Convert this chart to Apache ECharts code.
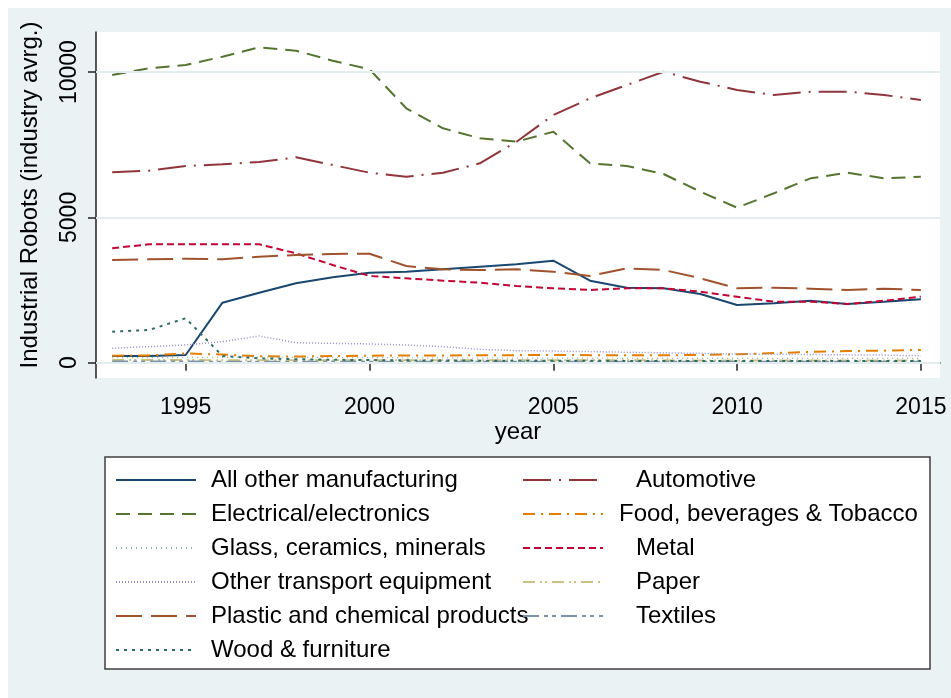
<!DOCTYPE html>
<html>
<head>
<meta charset="utf-8">
<script src="https://cdn.jsdelivr.net/npm/echarts@6/dist/echarts.min.js"></script>
<style>
  html, body { margin: 0; padding: 0; background: #fff; }
  #chart { width: 951px; height: 698px; }
</style>
</head>
<body>
<div id="chart"></div>
<script>
  // values (industry average of robots)
  var years = [1993, 1994, 1995, 1996, 1997, 1998, 1999, 2000, 2001, 2002, 2003, 2004,
               2005, 2006, 2007, 2008, 2009, 2010, 2011, 2012, 2013, 2014, 2015];
  var allOther = [230, 230, 265, 2065, 2409, 2732, 2938, 3097, 3131, 3213, 3303, 3386,
                  3510, 2822, 2581, 2560, 2364, 1986, 2044, 2133, 2020, 2099, 2181];
  var automotive = [6551, 6607, 6768, 6826, 6906, 7068, 6803, 6538, 6400, 6538, 6861, 7605,
                    8523, 9097, 9556, 10013, 9670, 9384, 9212, 9325, 9325, 9212, 9040];
  var electrical = [9900, 10130, 10244, 10530, 10853, 10736, 10392, 10096, 8754, 8066, 7722, 7605,
                    7950, 6860, 6768, 6493, 5885, 5334, 5829, 6345, 6538, 6345, 6400];
  var food = [240, 250, 320, 280, 220, 210, 230, 240, 250, 250, 255, 260,
              265, 260, 255, 255, 265, 290, 330, 370, 400, 415, 440];
  var glass = [170, 175, 180, 185, 190, 185, 180, 175, 170, 165, 160, 160,
               160, 155, 150, 150, 150, 145, 150, 150, 150, 150, 150];
  var metal = [3936, 4074, 4074, 4074, 4074, 3764, 3362, 2983, 2904, 2822, 2753, 2639,
               2560, 2502, 2560, 2560, 2443, 2271, 2099, 2099, 2020, 2133, 2271];
  var otherTransport = [495, 551, 609, 723, 919, 688, 666, 643, 609, 551, 460, 413,
                        400, 380, 360, 340, 320, 300, 290, 280, 270, 260, 240];
  var paper = [90, 90, 90, 85, 85, 80, 80, 80, 80, 80, 80, 80,
               80, 80, 80, 80, 75, 75, 75, 75, 75, 75, 75];
  var plastic = [3534, 3557, 3580, 3557, 3648, 3706, 3740, 3751, 3327, 3213, 3190, 3213,
                 3131, 2983, 3247, 3190, 2904, 2560, 2583, 2548, 2502, 2548, 2502];
  var textiles = [40, 40, 40, 35, 35, 35, 30, 30, 30, 30, 30, 30,
                  30, 30, 30, 30, 30, 30, 30, 30, 30, 30, 30];
  var wood = [1067, 1125, 1528, 230, 151, 120, 100, 90, 80, 75, 70, 70,
              65, 65, 60, 60, 60, 60, 55, 55, 55, 55, 55];

  var xTicks = [1995, 2000, 2005, 2010, 2015];
  var yTicks = [0, 5000, 10000];

  var font = 'Arial, "Liberation Sans", sans-serif';

  function pairs(vals) {
    return vals.map(function (v, i) { return [years[i], v]; });
  }

  function line(name, vals, color, dash, width) {
    return {
      name: name,
      type: 'line',
      data: pairs(vals),
      symbol: 'none',
      z: 3,
      lineStyle: { color: color, width: width || 2, type: dash, cap: 'butt' },
      itemStyle: { color: color },
      emphasis: { disabled: true },
      animation: false
    };
  }

  var leftNames = ['All other manufacturing', 'Electrical/electronics', 'Glass, ceramics, minerals',
                   'Other transport equipment', 'Plastic and chemical products', 'Wood & furniture'];
  var rightNames = ['Automotive', 'Food, beverages & Tobacco', 'Metal', 'Paper', 'Textiles'];

  var series = [
    // light gridlines at the y ticks
    {
      name: 'grid', type: 'line', data: [], z: 1, silent: true,
      markLine: {
        silent: true, symbol: 'none', label: { show: false },
        lineStyle: { color: '#e3edef', width: 2, type: 'solid' },
        data: yTicks.map(function (v) { return { yAxis: v }; }),
        animation: false
      }
    },
    line('All other manufacturing', allOther, '#1a476f', 'solid', 2),
    line('Automotive', automotive, '#90353b', [28, 8, 2, 8], 2),
    line('Electrical/electronics', electrical, '#55752f', [14, 8], 2),
    line('Food, beverages & Tobacco', food, '#e37e00', [12, 6, 2, 6], 2),
    line('Glass, ceramics, minerals', glass, '#8fa8a0', [1, 4], 1.2),
    line('Metal', metal, '#c10534', [7, 4], 2),
    line('Other transport equipment', otherTransport, '#938dd2', [1, 2], 1.5),
    line('Paper', paper, '#cac27e', [12, 5, 2, 3, 2, 5], 2),
    line('Plastic and chemical products', plastic, '#a0522d', [26, 9], 2),
    line('Textiles', textiles, '#7b92a8', [16, 5, 4, 4, 4, 5], 2),
    line('Wood & furniture', wood, '#2d6d66', [3, 5], 2)
  ];

  var legendText = { fontFamily: font, fontSize: 24, color: '#000', lineHeight: 24 };
  var plain = function (v) { return String(v); };

  var option = {
    backgroundColor: '#fff',
    animation: false,
    textStyle: { fontFamily: font },
    graphic: [
      { type: 'rect', z: -10, shape: { x: 8, y: 8, width: 943, height: 690 },
        style: { fill: '#eaf2f3' } },
      { type: 'rect', z: 1, shape: { x: 105, y: 457, width: 825, height: 212 },
        style: { fill: '#fff', stroke: '#404040', lineWidth: 1.5 } }
    ],
    grid: {
      left: 96, right: 11, top: 32, bottom: 320,
      show: true, backgroundColor: '#fff', borderWidth: 0
    },
    xAxis: {
      type: 'value', min: 1992.56, max: 2015.52,
      name: 'year', nameLocation: 'middle', nameGap: 41,
      nameTextStyle: { fontSize: 24, color: '#000', fontFamily: font },
      axisLine: { show: true, lineStyle: { color: '#222', width: 1.5 } },
      axisTick: { show: true, customValues: xTicks, length: 8, lineStyle: { color: '#222', width: 1.5 } },
      axisLabel: { customValues: xTicks, formatter: plain, margin: 18, fontSize: 23, color: '#000', fontFamily: font },
      splitLine: { show: false }
    },
    yAxis: {
      type: 'value', min: -527, max: 11380,
      name: 'Industrial Robots (industry avrg.)', nameLocation: 'middle', nameGap: 54,
      nameTextStyle: { fontSize: 24, color: '#000', fontFamily: font, padding: [0, 0, 0, 20] },
      axisLine: { show: true, lineStyle: { color: '#222', width: 1.5 } },
      axisTick: { show: true, customValues: yTicks, length: 8, lineStyle: { color: '#222', width: 1.5 } },
      axisLabel: { customValues: yTicks, formatter: plain, rotate: 90, margin: 15, fontSize: 23, color: '#000', fontFamily: font },
      splitLine: { show: false }
    },
    legend: [
      {
        orient: 'vertical', left: 115, top: 468, z: 4, padding: 0,
        itemWidth: 80, itemHeight: 14, itemGap: 10,
        selectedMode: false,
        itemStyle: { opacity: 0 },
        data: leftNames.map(function (n) { return { name: n, textStyle: { padding: [0, 0, 0, 10] } }; }),
        textStyle: legendText
      },
      {
        orient: 'vertical', left: 522, top: 468, z: 4, padding: 0,
        itemWidth: 80, itemHeight: 14, itemGap: 10,
        selectedMode: false,
        itemStyle: { opacity: 0 },
        data: rightNames.map(function (n) {
          var pad = n === 'Food, beverages & Tobacco' ? 11 : 28;
          return { name: n, textStyle: { padding: [0, 0, 0, pad] } };
        }),
        textStyle: legendText
      }
    ],
    series: series
  };

  var myChart = echarts.init(document.getElementById('chart'));
  myChart.setOption(option);
  window.addEventListener('resize', function () { myChart.resize(); });
</script>
</body>
</html>
